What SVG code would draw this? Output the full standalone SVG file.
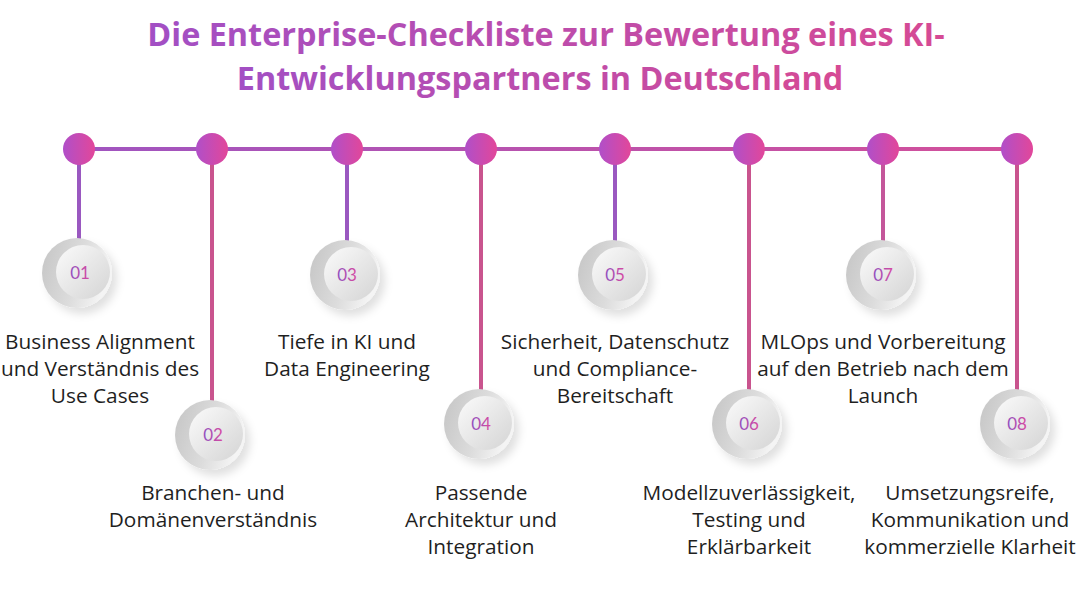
<svg xmlns="http://www.w3.org/2000/svg" width="1080" height="600" viewBox="0 0 1080 600">
<defs>
<linearGradient id="gTitle" x1="0" y1="0" x2="1" y2="0">
<stop offset="0" stop-color="#a24fc4"/><stop offset="1" stop-color="#d64a94"/>
</linearGradient>
<linearGradient id="gLine" gradientUnits="userSpaceOnUse" x1="79" y1="0" x2="1017" y2="0">
<stop offset="0" stop-color="#a055c0"/><stop offset="1" stop-color="#d3509a"/>
</linearGradient>
<linearGradient id="gDot" x1="0" y1="0" x2="1" y2="0">
<stop offset="0" stop-color="#b04fc9"/><stop offset="1" stop-color="#e2479a"/>
</linearGradient>
<linearGradient id="gRing" x1="0" y1="0" x2="1" y2="0.3">
<stop offset="0" stop-color="#c4c4c4"/><stop offset="0.6" stop-color="#dcdcdc"/><stop offset="1" stop-color="#f4f4f4"/>
</linearGradient>
<linearGradient id="gInner" x1="0" y1="0" x2="1" y2="1">
<stop offset="0" stop-color="#fbfbfb"/><stop offset="1" stop-color="#d4d4d4"/>
</linearGradient>
<linearGradient id="gNum" x1="0" y1="0" x2="1" y2="0">
<stop offset="0" stop-color="#8e4fc0"/><stop offset="1" stop-color="#d84aa0"/>
</linearGradient>
<filter id="shadow" x="-50%" y="-50%" width="200%" height="200%">
<feDropShadow dx="5" dy="6" stdDeviation="4" flood-color="#000" flood-opacity="0.12"/>
</filter>
</defs>
<style>
.title{font-family:"Open Sans","Liberation Sans",sans-serif;font-weight:700;font-size:32.4px;fill:url(#gTitle);text-anchor:middle}
.lbl{font-family:"Open Sans","Liberation Sans",sans-serif;font-size:20.8px;font-weight:500;fill:#1f1f1f;text-anchor:middle}
.num{font-family:"Lato","Open Sans",sans-serif;font-size:17px;fill:url(#gNum);text-anchor:middle}
.vodd{stroke:#9a58c0;stroke-width:4}
.veven{stroke:#c9548e;stroke-width:4}
.dot{fill:url(#gDot)}
.ring{fill:url(#gRing)}
.inner{fill:url(#gInner)}
</style>
<rect width="1080" height="600" fill="#ffffff"/>
<text class="title" x="546" y="46">Die Enterprise-Checkliste zur Bewertung eines KI-</text>
<text class="title" x="540" y="90">Entwicklungspartners in Deutschland</text>

<g id="connectors">
<line x1="79" y1="149" x2="1017" y2="149" stroke="url(#gLine)" stroke-width="4"/>
<line class="vodd" x1="79" y1="149" x2="79" y2="242"/>
<line class="veven" x1="212" y1="149" x2="212" y2="402"/>
<line class="vodd" x1="347" y1="149" x2="347" y2="242"/>
<line class="veven" x1="481" y1="149" x2="481" y2="392"/>
<line class="vodd" x1="615" y1="149" x2="615" y2="242"/>
<line class="veven" x1="749" y1="149" x2="749" y2="392"/>
<line x1="883" y1="149" x2="883" y2="242" stroke="#c4569a" stroke-width="4"/>
<line class="veven" x1="1017" y1="149" x2="1017" y2="392"/>
</g>

<g id="n1">
<circle class="dot" cx="79" cy="149" r="16"/>
<circle class="ring" cx="77" cy="273" r="35" filter="url(#shadow)"/>
<circle class="inner" cx="83" cy="272" r="27"/>
<text class="num" x="80" y="279">01</text>
<text class="lbl" x="100" y="349">Business Alignment</text>
<text class="lbl" x="100" y="376">und Verständnis des</text>
<text class="lbl" x="100" y="403">Use Cases</text>
</g>
<g id="n2">
<circle class="dot" cx="212" cy="149" r="16"/>
<circle class="ring" cx="210" cy="435" r="35" filter="url(#shadow)"/>
<circle class="inner" cx="216" cy="434" r="27"/>
<text class="num" x="213" y="441">02</text>
<text class="lbl" x="213" y="500">Branchen- und</text>
<text class="lbl" x="213" y="527">Domänenverständnis</text>
</g>
<g id="n3">
<circle class="dot" cx="347" cy="149" r="16"/>
<circle class="ring" cx="345" cy="275" r="35" filter="url(#shadow)"/>
<circle class="inner" cx="351" cy="274" r="27"/>
<text class="num" x="347" y="281">03</text>
<text class="lbl" x="347" y="349">Tiefe in KI und</text>
<text class="lbl" x="347" y="376">Data Engineering</text>
</g>
<g id="n4">
<circle class="dot" cx="481" cy="149" r="16"/>
<circle class="ring" cx="479" cy="424" r="35" filter="url(#shadow)"/>
<circle class="inner" cx="485" cy="423" r="27"/>
<text class="num" x="481" y="430">04</text>
<text class="lbl" x="481" y="500">Passende</text>
<text class="lbl" x="481" y="527">Architektur und</text>
<text class="lbl" x="481" y="554">Integration</text>
</g>
<g id="n5">
<circle class="dot" cx="615" cy="149" r="16"/>
<circle class="ring" cx="613" cy="275" r="35" filter="url(#shadow)"/>
<circle class="inner" cx="619" cy="274" r="27"/>
<text class="num" x="615" y="281">05</text>
<text class="lbl" x="615" y="349">Sicherheit, Datenschutz</text>
<text class="lbl" x="615" y="376">und Compliance-</text>
<text class="lbl" x="615" y="403">Bereitschaft</text>
</g>
<g id="n6">
<circle class="dot" cx="749" cy="149" r="16"/>
<circle class="ring" cx="747" cy="424" r="35" filter="url(#shadow)"/>
<circle class="inner" cx="753" cy="423" r="27"/>
<text class="num" x="749" y="430">06</text>
<text class="lbl" x="749" y="500">Modellzuverlässigkeit,</text>
<text class="lbl" x="749" y="527">Testing und</text>
<text class="lbl" x="749" y="554">Erklärbarkeit</text>
</g>
<g id="n7">
<circle class="dot" cx="883" cy="149" r="16"/>
<circle class="ring" cx="881" cy="275" r="35" filter="url(#shadow)"/>
<circle class="inner" cx="887" cy="274" r="27"/>
<text class="num" x="883" y="281">07</text>
<text class="lbl" x="883" y="349">MLOps und Vorbereitung</text>
<text class="lbl" x="883" y="376">auf den Betrieb nach dem</text>
<text class="lbl" x="883" y="403">Launch</text>
</g>
<g id="n8">
<circle class="dot" cx="1017" cy="149" r="16"/>
<circle class="ring" cx="1015" cy="424" r="35" filter="url(#shadow)"/>
<circle class="inner" cx="1021" cy="423" r="27"/>
<text class="num" x="1017" y="430">08</text>
<text class="lbl" x="970" y="500">Umsetzungsreife,</text>
<text class="lbl" x="970" y="527">Kommunikation und</text>
<text class="lbl" x="970" y="554">kommerzielle Klarheit</text>
</g>
</svg>
